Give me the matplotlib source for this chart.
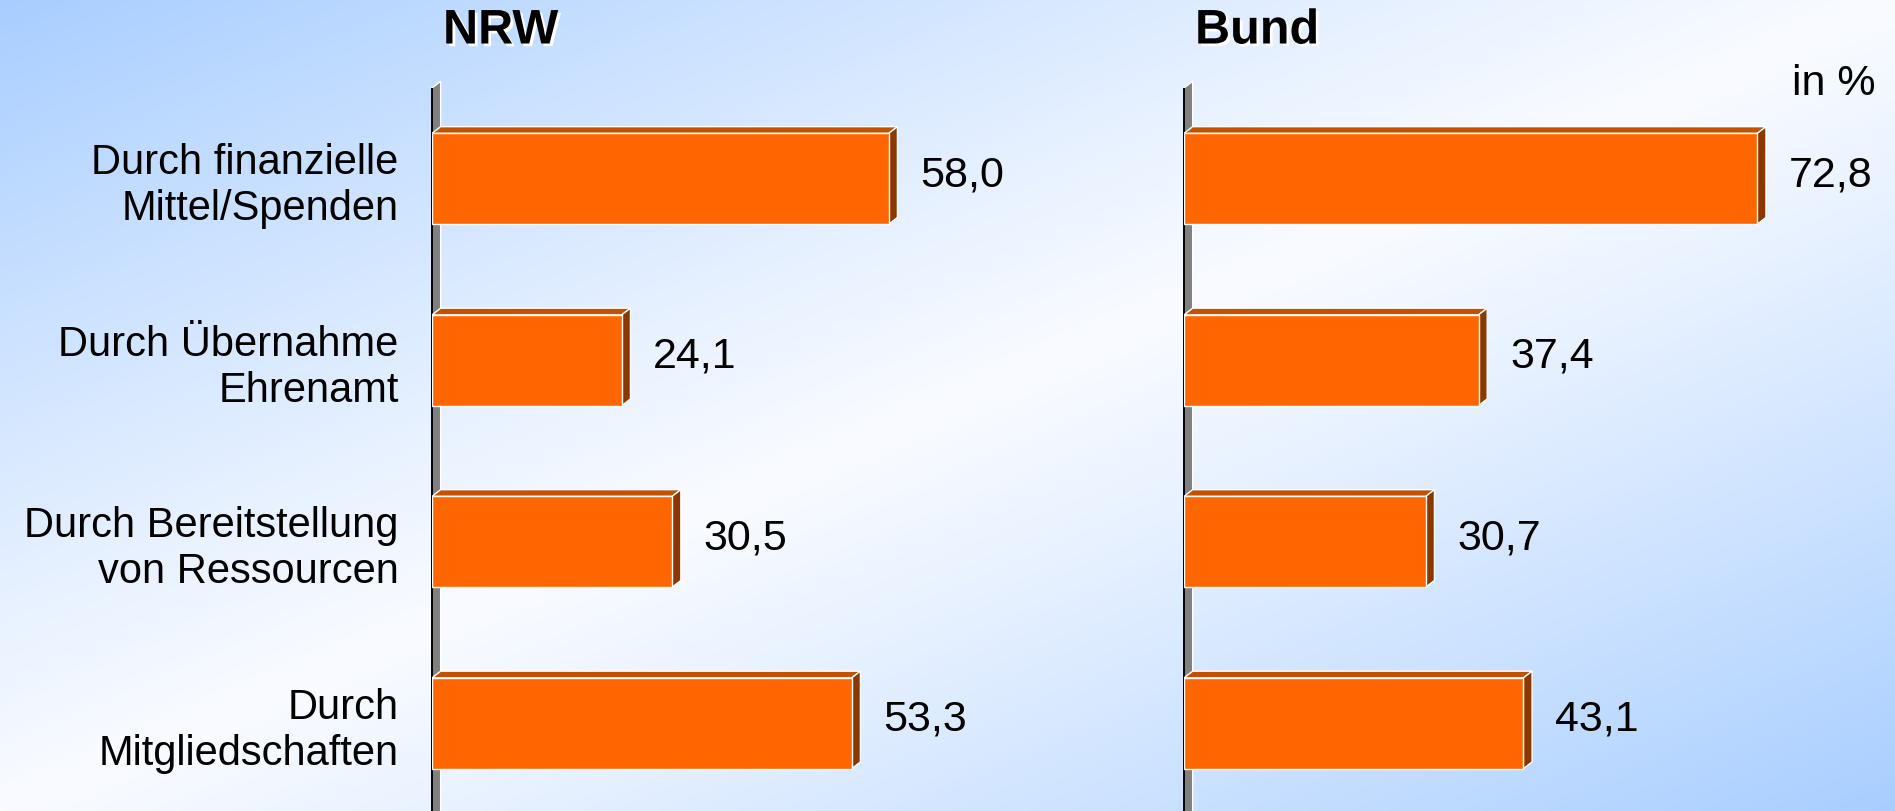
import numpy as np
import matplotlib
matplotlib.use("Agg")
import matplotlib.pyplot as plt
from matplotlib.patches import Polygon
from matplotlib import patheffects

plt.rcParams['font.family'] = ['Liberation Sans', 'DejaVu Sans']

# data
categories = ["Durch finanzielle\nMittel/Spenden",
              "Durch Übernahme\nEhrenamt",
              "Durch Bereitstellung\nvon Ressourcen",
              "Durch\nMitgliedschaften"]
nrw = [58.0, 24.1, 30.5, 53.3]
bund = [72.8, 37.4, 30.7, 43.1]
titles = ["NRW", "Bund"]

W, H = 1895, 811
fig = plt.figure(figsize=(W / 100, H / 100), dpi=100)

# background gradient: blue in top-left and bottom-right, white across the middle
bg = fig.add_axes([0, 0, 1, 1], zorder=-10)
xx, yy = np.meshgrid(np.linspace(0, 1, 400), np.linspace(0, 1, 200))
t = np.abs((xx + yy) / 2 - 0.5) * 2
blue = np.array([168, 206, 255]) / 255
white = np.array([249, 251, 255]) / 255
img = white + (blue - white) * t[..., None] ** 1.1
bg.imshow(img, aspect='auto', extent=[0, 1, 0, 1], origin='upper')
bg.set_axis_off()

FRONT = '#ff6600'
TOP = '#c25200'
SIDE = '#8a3800'
k = 7.875            # px per percent
xmax = 80
dx, dy = 1.1, 0.037  # 3d depth in data units
h = 0.5
ypos = np.arange(len(categories))

top_px = 88
slot_px = 181.5
ax_h = 4 * slot_px / H
ax_top = 1 - top_px / H


def panel(left_px, vals, title, labels):
    ax = fig.add_axes([left_px / W, ax_top - ax_h, xmax * k / W, ax_h])
    ax.set_xlim(0, xmax)
    ax.set_ylim(3.5, -0.5)
    ax.patch.set_alpha(0)
    for s in ax.spines.values():
        s.set_visible(False)
    ax.set_xticks([])
    if labels:
        ax.set_yticks(ypos)
        ax.set_yticklabels(categories, fontsize=30)
        ax.tick_params(axis='y', length=0, pad=24)
    else:
        ax.set_yticks([])

    # the wall / axis
    wall = Polygon([(0, -0.5), (dx, -0.5 - dy), (dx, 3.6), (0, 3.6)],
                   closed=True, facecolor='#808080', edgecolor='white',
                   linewidth=1, clip_on=False, zorder=1)
    ax.add_patch(wall)
    ax.plot([-0.05, -0.05], [-0.5, 3.6], color='black', lw=1.4, clip_on=False,
            zorder=2, solid_capstyle='butt')

    ax.barh(ypos, vals, height=h, color=FRONT, edgecolor='white',
            linewidth=1.0, zorder=4)
    for y, v in zip(ypos, vals):
        y0 = y - h / 2
        y1 = y + h / 2
        ax.add_patch(Polygon([(0, y0), (dx, y0 - dy), (v + dx, y0 - dy), (v, y0)],
                             facecolor=TOP, edgecolor='white', lw=1.0, zorder=3))
        ax.add_patch(Polygon([(v, y0), (v + dx, y0 - dy), (v + dx, y1 - dy), (v, y1)],
                             facecolor=SIDE, edgecolor='white', lw=1.0, zorder=3))
        ax.text(v + 4.0, y - 0.02, f"{v:.1f}".replace('.', ','), fontsize=31,
                va='center', ha='left', clip_on=False)

    fig.text((left_px + 11) / W, 1 - 31 / H, title, fontsize=35,
             fontweight='bold', va='center', ha='left',
             path_effects=[patheffects.withSimplePatchShadow(
                 offset=(2, -2), shadow_rgbFace='white', alpha=1)])
    return ax


panel(432, nrw, titles[0], True)
panel(1184, bund, titles[1], False)

fig.text(1792 / W, 1 - 84 / H, "in %", fontsize=31, va='center', ha='left')

fig.savefig("out.png", dpi=100)
